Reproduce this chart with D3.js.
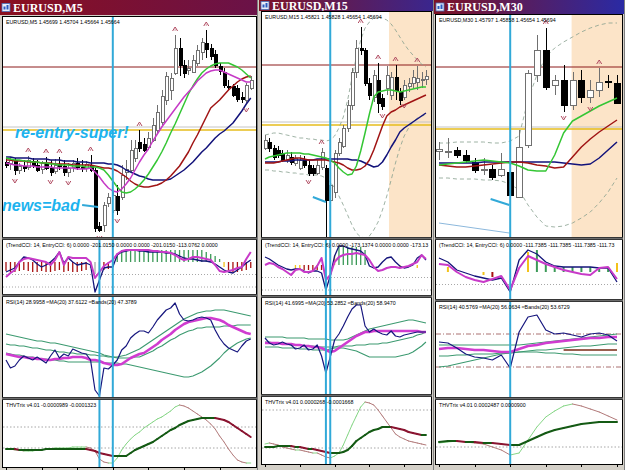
<!DOCTYPE html>
<html><head><meta charset="utf-8">
<script src="https://cdn.jsdelivr.net/npm/d3@7"></script>
<style>body{margin:0;background:#fff;overflow:hidden}svg{display:block}</style>
</head><body>
<svg id="chart" width="625" height="470"></svg>
<script>
// ================= DATA (chart units) =================
// ---- EURUSD M5 ----
const m5Candles = [[78,82,72,75],[77,83,70,80],[80,82,65,70],[70,77,66,74],[74,80,68,72],[73,84,70,80],[79,82,72,75],[75,80,68,70],[71,79,66,77],[77,83,70,72],
[72,80,64,68],[69,81,66,75],[76,83,70,74],[74,80,64,68],[68,77,63,72],[73,80,68,77],[77,82,70,73],[73,80,68,72],[72,79,68,76],[75,85,68,70],
[70,72,8,12],[14,18,8,10],[15,38,8,35],[37,47,33,43],[30,48,27,45],[44,55,25,30],[43,75,40,65],[68,80,60,71],[70,100,68,90],[82,100,78,92],
[98,110,88,92],[96,102,88,90],[93,108,90,102],[100,122,98,115],[110,135,107,128],[118,150,115,144],[140,168,135,164],[150,167,140,162],[167,205,165,192],[192,202,164,175],
[175,180,162,167],[170,180,165,172],[168,185,167,180],[177,195,174,190],[188,202,180,198],[197,210,182,191],[192,196,180,184],[186,190,172,175],[174,177,165,169],[168,172,152,155],
[154,160,150,153],[154,156,143,145],[152,155,138,141],[143,148,137,141],[140,157,136,155],[152,164,150,160]];
const m5FractUp = [5,9,12,19,30,38,45];
const m5FractDown = [2,10,14,21,25,54];
const m5Magenta = [77,76,75,75,74,74,74,73,73,73,73,72,72,72,72,72,71,71,71,72,68,63,57,52,49,48,51,56,62,70,78,85,91,99,106,113,119,125,131,137,143,148,153,159,163,167,169,170,170,168,166,164,162,160,158,158];
const m5Green = [82,81,80,80,79,79,78,78,77,77,76,76,75,75,75,74,74,74,73,73,73,72,70,65,59,53,48,47,48,51,55,60,66,73,80,88,97,107,116,126,136,146,154,161,167,171,174,176,177,177,177,175,173,170,166,162];
const m5Red = [80,80,79,79,79,78,78,78,77,77,77,76,76,76,76,75,75,75,75,75,74,73,72,72,71,69,66,63,59,56,54,53,53,54,55,57,60,64,69,74,81,88,97,105,114,123,132,136,140,145,150,154,158,161,163,164];
const m5Navy = [83,83,82,82,82,82,81,81,81,81,80,80,80,79,79,79,78,78,78,77,77,77,77,76,76,75,73,70,68,66,64,63,61,60,60,60,60,61,64,67,70,74,78,83,88,92,97,102,106,109,113,117,123,129,136,142];
const m5Levels = [173,110,113];          // resistance, re-entry, grey
const m5VMain = [24];
const m5VSub = [21,24];
const m5Pointers = [[[17.1,35],[20.7,33]]];
const m5Notes = [["re-entry-super!",2,102],["news=bad",-0.9,29]];
const m5CciTrend = [-80,-64,-48,0,40,32,16,-16,-40,-24,0,32,80,-8,32,0,-24,-16,-8,-24,-240,-144,-48,-40,-40,56,80,88,96,96,88,88,80,80,80,80,72,72,64,48,32,24,24,16,8,8,0,-16,-40,-64,-80,-88,-64,-40,-8,16];
const m5CciEntry = [-120,-88,-64,0,24,32,24,16,8,0,-24,16,80,-24,40,32,32,32,32,0,-128,-80,-32,-8,16,64,88,96,96,96,96,96,96,88,88,80,80,72,56,32,16,24,40,40,32,24,16,-24,-72,-80,-72,-64,-48,-40,24,80];
const m5CciHist = [-72,-80,-80,-72,-64,-72,-80,-80,-72,-80,-80,-72,-64,-80,-72,-80,-80,-72,-64,-48,-96,-80,-64,-56,-40,72,96,96,96,96,96,96,96,96,96,96,96,96,96,96,96,96,96,96,96,80,64,48,24,-40,-64,-80,-80,-72,-64,-48];
const m5CciState = ("rrrrrrrrrrrrrrrrrrr"+"nnn"+"rrr"+"gggggggggggggggggggggggg"+"y"+"rrrrrr").split("");
const m5Rsi = [44,40,41,44,46,45,44,45.5,44,42.5,46,49,45,47,46,49.5,48.5,47.5,47,44,29,26,40,39.5,41.5,44,49,51,55,57,58.5,58.5,57.5,60.5,64,66.5,69,70,72.5,67,64,63.5,64,65,65.5,65,64,59,55,52,50,49,48,51,53.5,54.5];
const m5RsiMa = [47,46.5,46,45.5,45.5,45,45,44.5,44.5,44,44,44.5,44.5,45,45,45.5,45.5,45.5,45,44,44,43.5,42.5,42,41.5,41.5,42,43.5,45,46,47,47.5,49,50.5,52,54,55.5,57,59,60.5,62,63,63.5,64,64.5,65,65,64.5,64,63,61.5,60.5,59.5,58.5,57.5,57];
const m5BandUp = [57,56.5,56,55.5,55,54.5,54,53.5,53.5,53,52.5,52.5,52,51.5,51,50.5,50,49.5,49,48.5,48,47.5,46.5,46,45.5,45.5,46,46.5,47.5,48.5,49.5,51,52.5,54,55.5,57,58.5,60,61.5,63,64.5,65.5,66.5,67.5,68,68.5,68.5,69,69,69,68.5,68,67.5,67,66.5,66];
const m5BandMid = [52,51.5,51.5,51,51,50.5,50,50,49.5,49,49,48.5,48,48,47.5,47.5,47,47,47,46.5,46.5,46,46,45.5,45.5,45,45,45,45,45.5,45.5,46.5,47.5,48.5,50,51,52.5,54,55,56.5,57.5,58.5,59,60,60,60.5,60.5,60.5,60.5,61,61,61,61.5,61.5,61.5,61.5];
const m5BandLo = [47.5,47,46.5,46.5,46,45.5,45.5,45,44.5,44.5,44,44,43.5,43.5,43,43,43,43,43,43,43,43,42.5,42.5,42.5,42.5,42,42,41.5,41,40.5,40,39.5,39,38.5,38,37.5,37,36.5,36,35.5,35.5,36,37,38,39.5,41,43,45,47.5,49.5,51,52.5,53.5,54.5,55];
const m5TrixSlow = [-1,-1,-1,-2,-2,-2,-2,-2,-2,-1,-1,-1,-1,-1,-1,-1,-1,-1,-1,-2,-3,-5,-6,-7,-8,-8,-8,-8,-5,-2,0,2,4,6,9,12,15,18,20,23,25,27,28,29,30,30,30,30,29,28,26,23,20,17,14,11];
const m5TrixFast = [-1,-1,-2,-2,-3,-3,-3,-2,-2,-1,-1,0,0,0,0,1,1,1,1,0,-3,-11,-14,-15,-15,-10,-2,4,9,13,16,20,23,26,29,31,34,37,41,43,42,40,37,34,31,28,24,19,12,6,-1,-7,-12,-14,-15,-15];

// ---- EURUSD M15 ----
const m15Candles = [[92,105,90,100],[98,102,88,92],[92,95,80,83],[90,94,82,85],[87,90,78,80],[80,90,77,85],[83,88,75,78],[77,85,74,82],[72,85,70,80],[80,84,72,75],
[75,80,64,67],[72,75,64,67],[67,80,65,75],[73,92,70,88],[72,75,3,40],[40,60,35,55],[48,90,42,87],[87,102,84,98],[94,115,92,112],[112,140,108,135],
[135,172,130,168],[168,200,162,192],[192,213,185,190],[190,192,154,157],[157,162,140,145],[143,170,138,165],[160,177,127,137],[142,146,130,134],[152,174,145,165],[145,168,140,163],
[163,175,140,150],[148,152,135,140],[143,160,140,155],[154,162,148,157],[157,170,152,163],[158,174,150,162],[160,168,152,161],[161,170,155,164]];
const m15FractUp = [13,22,26,30,35];
const m15FractDown = [10,14,27,32];
const m15Green = [81,83,84,85,86,87,87,87,87,86,86,85,84,83,82,80,77,72,68,65,66,74,89,107,126,143,148,149,150,150,149,148,149,150,151,152,153,153];
const m15Red = [77,77,77,78,79,80,81,82,82,81,80,80,80,80,80,79,78,77,75,72,70,70,71,74,80,90,102,114,124,128,130,133,135,137,139,141,143,145];
const m15Navy = [78,78,78,78,79,79,79,80,80,80,80,80,81,81,81,81,81,81,81,81,80,80,79,77,75,73,74,78,85,93,100,108,112,115,118,121,124,127];
const m15EnvUp = [105,106,107,107,106,105,104,103,102,102,101,101,100,100,99,100,104,112,123,140,162,183,200,212,218,222,223,222,220,216,210,203,196,190,185,180,176,173];
const m15EnvLo = [70,70,69,69,68,68,67,67,66,66,65,65,65,64,62,58,52,44,35,25,15,7,3,2,4,10,18,30,44,60,77,92,104,112,118,122,124,125];
const m15Levels = [175,115,118];
const m15Session = 28.5;
const m15VMain = [15];
const m15VSub = [14,15];
const m15Pointers = [[[11,43],[14,38]]];
const m15CciTrend = [64,48,24,0,-16,-32,-40,-32,-32,-48,-64,-48,-48,-64,-200,-88,72,152,152,136,128,120,112,80,-8,-24,-16,24,56,64,24,-8,-24,-16,0,56,80,40];
const m15CciEntry = [0,16,8,-16,-32,-56,-80,-40,-32,-56,-56,-48,-8,56,-120,-80,24,64,80,88,88,96,88,80,40,-16,-48,-40,-24,-16,-16,-24,-16,-8,8,24,80,48];
const m15CciHist = [0,0,0,0,0,0,0,-40,-40,-40,-40,-40,-40,-40,0,0,80,144,144,144,144,144,144,120,0,0,0,0,0,0,0,-24,0,0,0,-24,0,0];
const m15CciState = ("nnnnnnn"+"yy"+"rrrrr"+"nn"+"y"+"ggggggg"+"nnnnnnn"+"y"+"nnn"+"y"+"nn").split("");
const m15Rsi = [53.5,51,50,50.5,51.5,50.5,50,48,48.5,50,47.5,48,50,44.5,36,44,52.5,55.5,59.5,64,68,70,70,59.5,56.5,58,56.5,55.5,55,57,54.5,54,55,55.5,56,56.5,56.5,56.5];
const m15RsiMa = [51,51,51,51,50.5,50.5,50.5,50,50,49.5,49.5,49,49,48.5,47.5,46.5,47,48.5,50,51.5,53,54.5,55.5,56.5,56.5,57,57,57,57,57,57,57,57,57,57,57,56.5,56.5];
const m15BandUp = [54,54,54,54,54,53.5,53.5,53.5,53.5,53.5,53,53,53,53,53,52.5,52.5,52.5,52.5,53,54,55,56,57,58,58.5,59,59.5,60,60.5,61,61.5,62,62.5,62.5,62,61.5,61];
const m15BandMid = [51.5,51.5,51,51,50.5,50.5,50,50,50,49.5,49.5,49.5,49,49,49,49,49,49.5,49.5,49.5,49.5,50,50,50,50.5,50.5,50.5,51,51,51.5,52,52.5,53,53.5,54,55,55.5,56.5];
const m15BandLo = [49,49,49,49,48.5,48.5,48.5,48.5,48,48,48,47.5,47.5,47.5,47.5,48,48.5,48.5,48.5,48,47.5,47,46,45,44,44,44,44,44,44,44,44.5,45,45.5,46.5,48,49.5,51.5];
const m15TrixSlow = [1,1,1,2,2,2,2,1,1,0,-1,-1,-2,-3,-4,-5,-5,-5,-4,-2,2,7,10,13,16,18,19,21,21,21,20,19,18,16,15,14,13,13];
const m15TrixFast = [4,5,4,3,1,0,-1,-2,-2,-3,-4,-5,-5,-7,-9,-10,-8,-5,3,13,23,32,41,46,45,43,38,32,26,20,14,11,9,7,6,5,4,3];

// ---- EURUSD M30 ----
const m30Candles = [[89,98,80,91],[89,102,82,89],[90,93,82,85],[85,90,77,80],[78,82,67,70],[71,82,65,71],[71,75,60,63],[65,87,63,71],[68,72,42,45],[43,110,42,93],
[95,170,92,167],[165,205,158,190],[190,212,150,153],[155,165,145,160],[160,175,128,135],[135,168,130,160],[160,170,137,143],[143,160,137,150],[150,172,143,158],[159,165,152,158],[157,165,136,137]];
const m30FractUp = [12,18];
const m30FractDown = [14,17];
const m30Green = [75,76,77,78,79,80,79,78,77,74,70,69,69,85,107,119,124,129,134,138,142];
const m30Red = [75,74,73,73,74,75,76,77,78,78,77,75,74,72,73,83,93,101,108,114,120];
const m30Navy = [77,77,77,77,77,78,78,78,78,78,78,78,78,78,77,76,75,76,82,90,98];
const m30EnvUp = [97,97,98,98,98,98,97,97,99,104,140,165,183,192,198,203,208,212,215,217,217];
const m30EnvLo = [62,62,61,61,61,60,60,59,56,50,35,23,14,13,14,17,22,28,37,48,62];
const m30Levels = [173,111,113];
const m30Session = 14.9;
const m30VMain = [8];
const m30VSub = [8];
const m30Pointers = [[[5.8,41],[7.9,35]]];
const m30Trend = [[0,17],[7.9,7]];
const m30CciTrend = [112,80,16,-8,-32,-48,-64,-48,-160,96,176,144,80,48,40,40,40,40,32,32,-80];
const m30CciEntry = [64,56,0,-40,-64,-80,-56,-32,-144,32,128,96,64,40,16,0,-16,-24,32,40,-56];
const m30CciHist = [0,40,0,0,0,-24,-40,0,0,0,160,176,64,48,40,40,40,40,40,40,72];
const m30CciState = ("nynnnyrnnny"+"ggggggggg"+"y").split("");
const m30Rsi = [54,53.5,51,48,46.5,46,45,47.5,41,59,66.5,67.5,60,58,58.5,57.5,56.5,58,58.5,57.5,54.5];
const m30RsiMa = [50.5,51,51,50.5,50,50,49.5,49,49,50.5,52,52.5,53.5,54,54.5,55,55.5,56,56,56.5,56.5];
const m30BandUp = [52.5,52.5,52.5,52.5,52.5,52.5,52.5,52.5,52.5,52.5,53,53.5,54,54.5,55,55.5,56,56.5,57,57.5,58];
const m30BandMid = [47,47,47.5,47.5,48,48,48,48.5,48.5,49,49.5,50,50,50.5,51,51.5,52,52,52.5,53,53];
const m30BandLo = [41.5,42,43,44,45,46,47,48,48.5,49,49,49,48.5,48.5,48,48,47.5,47.5,47.5,47.5,47.5];
const m30RsiLevels = [58,41.5];
const m30RsiMid = [[14,20],50];
const m30TrixSlow = [5,6,6,5,5,4,4,3,2,2,6,10,14,17,19,21,23,24,25,25,25];
const m30TrixFast = [4,5,6,5,4,3,0,-3,-8,-6,7,20,30,36,41,43,41,38,35,31,27];

// ================= STYLE / LAYOUT =================
const LEVEL_STYLE = [{c:"#8c1a1a",w:1},{c:"#e6bd1c",w:1.6},{c:"#c4c4c4",w:1}];
const HIST_COL = {r:"#a81010",g:"#3c9a58",y:"#f2c21a",n:"#a8a8a8"};
const CYAN = "#31a9d8";

const panels = [
 {id:1,title:"EURUSD,M5",header:"EURUSD,M5  1.45699 1.45704 1.45664 1.45664",gx:[0,258],titleH:15,cx:[3,256],
  grad:["#8a0f1f","#6a1248"],bar0:6,step:4.45,candleW:3,histW:1.3,tick:8,
  win:{main:[17,237],cci:[240,294],rsi:[297,397],trix:[400,467]},
  dom:{main:[3,223],cci:[-256,176],rsi:[25.5,75.5],trix:[-19,48]},
  candles:m5Candles,fu:m5FractUp,fd:m5FractDown,
  mas:[[m5Navy,"#12127a"],[m5Red,"#a01414"],[m5Green,"#34c634"],[m5Magenta,"#c63ac6"]],
  env:null,levels:m5Levels,session:null,vMain:m5VMain,vSub:m5VSub,pointers:m5Pointers,notes:m5Notes,trend:null,
  cciT:m5CciTrend,cciE:m5CciEntry,hist:m5CciHist,state:m5CciState,cciLv:[-100,-200],
  cciText:"(TrendCCI: 14, EntryCCI: 6)  0.0000 -201.0150  0.0000  0.0000 -201.0150 -113.0762  0.0000",
  rsi:m5Rsi,rsiMa:m5RsiMa,bands:[m5BandUp,m5BandMid,m5BandLo],rsiLv:[],rsiMid:null,
  rsiText:"RSI(14) 28.9958   \u2248MA(20) 37.6122   \u2248Bands(20) 47.3789",
  tS:m5TrixSlow,tF:m5TrixFast,trixLv:[21,0],trixText:"THVTrix v4.01 -0.0000989 -0.0001323"},
 {id:2,title:"EURUSD,M15",header:"EURUSD,M15  1.45821 1.45828 1.45654 1.45694",gx:[259,434],titleH:11,cx:[262,431],
  grad:["#7e1224","#3a268e"],bar0:265,step:4.35,candleW:3,histW:1.3,tick:8,
  win:{main:[12,237],cci:[240,295],rsi:[298,394],trix:[397,464]},
  dom:{main:[3,228],cci:[-240,200],rsi:[25.5,73.5],trix:[-16,51]},
  candles:m15Candles,fu:m15FractUp,fd:m15FractDown,
  mas:[[m15Navy,"#12127a"],[m15Red,"#a01414"],[m15Green,"#34c634"]],
  env:[m15EnvUp,m15EnvLo],levels:m15Levels,session:m15Session,vMain:m15VMain,vSub:m15VSub,pointers:m15Pointers,notes:[],trend:null,
  cciT:m15CciTrend,cciE:m15CciEntry,hist:m15CciHist,state:m15CciState,cciLv:[-100,-200],
  cciText:"(TrendCCI: 14, EntryCCI: 6)  0.0000 -173.1374  0.0000  0.0000 -173.13",
  rsi:m15Rsi,rsiMa:m15RsiMa,bands:[m15BandUp,m15BandMid,m15BandLo],rsiLv:[],rsiMid:null,
  rsiText:"RSI(14) 41.6995   \u2248MA(20) 53.2852   \u2248Bands(20) 58.9470",
  tS:m15TrixSlow,tF:m15TrixFast,trixLv:[38,0],trixText:"THVTrix v4.01 0.0000268 -0.0001668"},
 {id:3,title:"EURUSD,M30",header:"EURUSD,M30  1.45797 1.45858 1.45654 1.45694",gx:[434,625],titleH:14,cx:[436,622],
  grad:["#7e1224","#2a2aa4"],bar0:439,step:8.9,candleW:6,histW:2,tick:4,
  win:{main:[15,237],cci:[240,299],rsi:[302,397],trix:[400,464]},
  dom:{main:[3,225],cci:[-216,256],rsi:[26.5,74],trix:[-17,47]},
  candles:m30Candles,fu:m30FractUp,fd:m30FractDown,
  mas:[[m30Navy,"#12127a"],[m30Red,"#a01414"],[m30Green,"#34c634"]],
  env:[m30EnvUp,m30EnvLo],levels:m30Levels,session:m30Session,vMain:m30VMain,vSub:m30VSub,pointers:m30Pointers,notes:[],trend:m30Trend,
  cciT:m30CciTrend,cciE:m30CciEntry,hist:m30CciHist,state:m30CciState,cciLv:[-100],
  cciText:"(TrendCCI: 14, EntryCCI: 6) 0.0000 -111.7385 -111.7385 -111.7385 -111.73",
  rsi:m30Rsi,rsiMa:m30RsiMa,bands:[m30BandUp,m30BandMid,m30BandLo],rsiLv:m30RsiLevels,rsiMid:m30RsiMid,
  rsiText:"RSI(14) 40.5769   \u2248MA(20) 56.0634   \u2248Bands(20) 53.6729",
  tS:m30TrixSlow,tF:m30TrixFast,trixLv:[0],trixText:"THVTrix v4.01 0.0002487 0.0000900"}
];

// ================= DRAW =================
const svg = d3.select("#chart");
const defs = svg.append("defs");
svg.append("rect").attr("width",625).attr("height",470).attr("fill","#d4d0c8");
const SMALL = "'Liberation Sans', Arial, sans-serif";

function drawPanel(P){
  const g = svg.append("g");
  const n = P.candles.length;
  const xs = d3.scaleLinear().domain([0,n-1]).range([P.bar0, P.bar0+P.step*(n-1)]);

  // frame
  g.append("rect").attr("x",P.gx[0]).attr("y",0).attr("width",P.gx[1]-P.gx[0]).attr("height",470).attr("fill","#d4d0c8");
  g.append("line").attr("x1",P.gx[1]-0.5).attr("x2",P.gx[1]-0.5).attr("y1",0).attr("y2",470).attr("stroke","#808080");
  // title bar
  const gid="grad"+P.id;
  const lg=defs.append("linearGradient").attr("id",gid);
  lg.append("stop").attr("offset","0").attr("stop-color",P.grad[0]);
  lg.append("stop").attr("offset","1").attr("stop-color",P.grad[1]);
  g.append("rect").attr("x",P.gx[0]).attr("y",0).attr("width",P.gx[1]-P.gx[0]-1).attr("height",P.titleH).attr("fill",`url(#${gid})`);
  g.append("rect").attr("x",P.gx[0]+2).attr("y",P.titleH/2-4).attr("width",8).attr("height",8).attr("fill","#e8eefa").attr("stroke","#4a6fb8").attr("stroke-width",0.8);
  g.append("rect").attr("x",P.gx[0]+3.5).attr("y",P.titleH/2-1).attr("width",2).attr("height",3).attr("fill","#2a5cc0");
  g.append("rect").attr("x",P.gx[0]+6.5).attr("y",P.titleH/2-2.5).attr("width",2).attr("height",4.5).attr("fill","#2a5cc0");
  g.append("text").attr("x",P.gx[0]+13).attr("y",P.titleH/2+4).text(P.title)
    .attr("fill","#fff").attr("font-family","'Liberation Serif','Times New Roman',serif").attr("font-weight","bold").attr("font-size",12);

  // windows
  const W={};
  ["main","cci","rsi","trix"].forEach(k=>{
    const [t,b]=P.win[k];
    const cid=`clip${P.id}${k}`;
    defs.append("clipPath").attr("id",cid).append("rect").attr("x",P.cx[0]).attr("y",t).attr("width",P.cx[1]-P.cx[0]).attr("height",b-t);
    g.append("rect").attr("x",P.cx[0]-0.5).attr("y",t-0.5).attr("width",P.cx[1]-P.cx[0]+1).attr("height",b-t+1)
      .attr("fill","#fff").attr("stroke","#000").attr("stroke-width",1);
    const y=d3.scaleLinear().domain(P.dom[k]).range([b,t]);
    W[k]={g:g.append("g").attr("clip-path",`url(#${cid})`),y,t,b};
  });
  // separators
  [["main","cci"],["cci","rsi"],["rsi","trix"]].forEach(([a,b])=>{
    const y0=P.win[a][1]+0.5, y1=P.win[b][0]-0.5;
    g.append("rect").attr("x",P.cx[0]-1).attr("y",y0).attr("width",P.cx[1]-P.cx[0]+2).attr("height",Math.max(1,y1-y0)).attr("fill","#6c6c6c");
  });

  const hline=(w,v,col,wid,dash)=>w.g.append("line").attr("x1",P.cx[0]).attr("x2",P.cx[1]).attr("y1",w.y(v)).attr("y2",w.y(v))
      .attr("stroke",col).attr("stroke-width",wid).attr("stroke-dasharray",dash||null);
  const vline=(w,i)=>w.g.append("line").attr("x1",xs(i)).attr("x2",xs(i)).attr("y1",w.t).attr("y2",w.b).attr("stroke",CYAN).attr("stroke-width",2);
  const series=(w,data,col,wid,dash)=>w.g.append("path").datum(data)
      .attr("d",d3.line().x((d,i)=>xs(i)).y(d=>w.y(d))).attr("fill","none").attr("stroke",col).attr("stroke-width",wid)
      .attr("stroke-dasharray",dash||null).attr("stroke-linejoin","round");
  const label=(w,txt)=>w.g.append("text").attr("x",P.cx[0]+3).attr("y",w.t+7).text(txt).attr("font-family",SMALL).attr("font-size",5.3).attr("fill","#000");

  // ---------- main ----------
  const M=W.main, my=M.y;
  if(P.session!=null){
    M.g.append("rect").attr("x",xs(P.session)).attr("y",M.t).attr("width",P.cx[1]-xs(P.session)).attr("height",M.b-M.t).attr("fill","#fce4c8");
  }
  P.levels.forEach((v,k)=>hline(M,v,LEVEL_STYLE[k].c,LEVEL_STYLE[k].w));
  if(P.env) P.env.forEach(e=>series(M,e,"#86a08e",0.8,"4,3"));
  if(P.trend) M.g.append("line").attr("x1",xs(P.trend[0][0])).attr("y1",my(P.trend[0][1])).attr("x2",xs(P.trend[1][0])).attr("y2",my(P.trend[1][1])).attr("stroke","#8cb8dc").attr("stroke-width",1);
  // candles
  const cg=M.g.append("g").attr("shape-rendering","crispEdges");
  cg.selectAll("line").data(P.candles).join("line")
    .attr("x1",(d,i)=>Math.round(xs(i))+0.5).attr("x2",(d,i)=>Math.round(xs(i))+0.5)
    .attr("y1",d=>my(d[1])).attr("y2",d=>my(d[2])).attr("stroke",d=>d[3]>=d[0]?"#707070":"#000");
  cg.selectAll("rect").data(P.candles).join("rect")
    .attr("x",(d,i)=>Math.round(xs(i))+0.5-P.candleW/2).attr("width",P.candleW)
    .attr("y",d=>my(Math.max(d[0],d[3]))).attr("height",d=>Math.max(1,my(Math.min(d[0],d[3]))-my(Math.max(d[0],d[3]))))
    .attr("fill",d=>d[3]>=d[0]?"#fff":"#000").attr("stroke",d=>d[3]>=d[0]?"#707070":"#000").attr("stroke-width",1);
  // moving averages
  P.mas.forEach(([d,c])=>series(M,d,c,1.5));
  // fractals
  M.g.selectAll(".fu").data(P.fu).join("path").attr("d",i=>{const x=xs(i),y=my(P.candles[i][1])-4;return `M${x-2.5},${y} L${x},${y-4} L${x+2.5},${y} M${x},${y-1.5} L${x},${y-0.5}`;})
    .attr("fill","none").attr("stroke","#b04a60").attr("stroke-width",1);
  M.g.selectAll(".fd").data(P.fd).join("path").attr("d",i=>{const x=xs(i),y=my(P.candles[i][2])+4;return `M${x-2.5},${y} L${x},${y+4} L${x+2.5},${y} M${x},${y+1.5} L${x},${y+0.5}`;})
    .attr("fill","none").attr("stroke","#b04a60").attr("stroke-width",1);
  P.vMain.forEach(i=>vline(M,i));
  P.pointers.forEach(p=>M.g.append("line").attr("x1",xs(p[0][0])).attr("y1",my(p[0][1])).attr("x2",xs(p[1][0])).attr("y2",my(p[1][1])).attr("stroke",CYAN).attr("stroke-width",2));
  P.notes.forEach(([t,i,v])=>M.g.append("text").attr("x",xs(i)).attr("y",my(v)).text(t)
      .attr("font-family","'Liberation Sans',Arial,sans-serif").attr("font-weight","bold").attr("font-style","italic").attr("font-size",16).attr("fill","#1db3ee"));
  label(M,P.header);

  // ---------- CCI ----------
  const C=W.cci;
  P.cciLv.forEach(v=>hline(C,v,"#909090",0.8,"1,2"));
  C.g.selectAll(".hb").data(P.hist).join("line")
    .attr("x1",(d,i)=>xs(i)).attr("x2",(d,i)=>xs(i)).attr("y1",C.y(0)).attr("y2",d=>C.y(d))
    .attr("stroke",(d,i)=>HIST_COL[P.state[i]]).attr("stroke-width",P.histW);
  series(C,P.cciT,"#14147a",1.3);
  series(C,P.cciE,"#c83ac8",2);
  P.vSub.forEach(i=>vline(C,i));
  label(C,P.cciText);

  // ---------- RSI ----------
  const R=W.rsi;
  P.rsiLv.forEach(v=>hline(R,v,"#a06060",0.9,"5,2,1,2"));
  if(P.rsiMid) R.g.append("line").attr("x1",xs(P.rsiMid[0][0])).attr("x2",xs(P.rsiMid[0][1])).attr("y1",R.y(P.rsiMid[1])).attr("y2",R.y(P.rsiMid[1])).attr("stroke","#9a6050").attr("stroke-width",2);
  P.bands.forEach(b=>series(R,b,"#3c9a70",1.1));
  series(R,P.rsiMa,"#d03cd0",2.6);
  series(R,P.rsi,"#16167e",1.2);
  P.vSub.forEach(i=>vline(R,i));
  label(R,P.rsiText);

  // ---------- THVTrix ----------
  const T=W.trix;
  P.trixLv.forEach(v=>hline(T,v,"#909090",0.8,"1.5,2"));
  const seg=(data,up,dn,wid)=>{
    const pairs=d3.pairs(data.map((v,i)=>[i,v]));
    T.g.selectAll(null).data(pairs).join("line")
      .attr("x1",d=>xs(d[0][0])).attr("y1",d=>T.y(d[0][1])).attr("x2",d=>xs(d[1][0])).attr("y2",d=>T.y(d[1][1]))
      .attr("stroke",d=>d[1][1]>=d[0][1]?up:dn).attr("stroke-width",wid).attr("stroke-linecap","round");
  };
  seg(P.tF,"#86d686","#b27a7a",1);
  seg(P.tS,"#145a14","#8a1430",2);
  P.vSub.forEach(i=>vline(T,i));
  label(T,P.trixText);

  // bottom ticks
  const tk=d3.range(0,n,P.tick);
  g.selectAll(".tk").data(tk).join("line").attr("x1",i=>Math.round(xs(i))+0.5).attr("x2",i=>Math.round(xs(i))+0.5)
    .attr("y1",T.b).attr("y2",T.b+3).attr("stroke","#000");
}
panels.forEach(drawPanel);
</script>
</body></html>
